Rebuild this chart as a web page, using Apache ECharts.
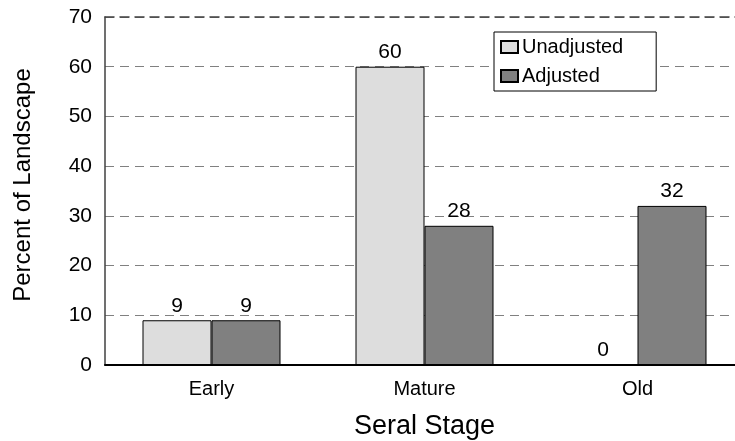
<!DOCTYPE html>
<html><head><meta charset="utf-8">
<script src="https://cdn.jsdelivr.net/npm/echarts@6/dist/echarts.min.js"></script>
<style>html,body{margin:0;padding:0;background:#fff;overflow:hidden;width:735px;height:441px}#c{width:745px;height:441px}</style>
</head><body><div id="c"></div>
<script>
const categories = ["Early", "Mature", "Old"];
const unadjusted = [9, 60, 0];
const adjusted = [9, 28, 32];
const yTicks = { min: 0, max: 70, interval: 10 };

const chart = echarts.init(document.getElementById('c'));
const font = 'Liberation Sans, Arial, sans-serif';
const lbl = { show: true, position: 'top', color: '#000', fontSize: 21, fontFamily: font, distance: 4 };
chart.setOption({
  animation: false,
  backgroundColor: '#fff',
  grid: { left: 105, right: 1, top: 17, bottom: 76, containLabel: false, outerBoundsMode: 'none' },
  legend: {
    left: 494, top: 32, orient: 'vertical',
    itemWidth: 17, itemHeight: 12, itemGap: 9,
    padding: [5, 33, 5, 6],
    backgroundColor: '#fff', borderColor: '#000', borderWidth: 1, borderRadius: 0,
    textStyle: { fontSize: 20, fontFamily: font, color: '#000', padding: [0, 0, 0, -1] },
    icon: 'rect',
    data: ['Unadjusted', 'Adjusted']
  },
  xAxis: [{
    type: 'category', data: categories,
    name: 'Seral Stage', nameLocation: 'middle', nameGap: 48,
    nameTextStyle: { fontSize: 27, fontFamily: font, color: '#000' },
    axisLine: { lineStyle: { color: '#000', width: 2 } },
    axisTick: { show: false },
    axisLabel: { fontSize: 20, fontFamily: font, color: '#000', margin: 14 }
  }, {
    type: 'category', data: categories, position: 'top',
    axisLine: { show: true, lineStyle: { color: '#404040', width: 1.5, type: [9, 6] } },
    axisTick: { show: false }, axisLabel: { show: false }
  }],
  yAxis: {
    type: 'value', min: yTicks.min, max: yTicks.max, interval: yTicks.interval,
    name: 'Percent of Landscape', nameLocation: 'middle', nameGap: 70,
    nameTextStyle: { fontSize: 24, fontFamily: font, color: '#000', padding: [0, 0, 0, 12] },
    axisLine: { show: true, lineStyle: { color: '#404040', width: 1.5 } },
    axisTick: { show: false },
    axisLabel: { fontSize: 21, fontFamily: font, color: '#000', margin: 13 },
    splitLine: { show: true, lineStyle: { color: '#808080', type: [9, 6], width: 1.2 } }
  },
  series: [
    { name: 'Unadjusted', type: 'bar', data: unadjusted, barWidth: 69, barGap: '0%',
      itemStyle: { color: '#dddddd', borderColor: '#000', borderWidth: 1 }, label: lbl },
    { name: 'Adjusted', type: 'bar', data: adjusted, barWidth: 69,
      itemStyle: { color: '#808080', borderColor: '#000', borderWidth: 1 }, label: lbl }
  ]
});
</script></body></html>
